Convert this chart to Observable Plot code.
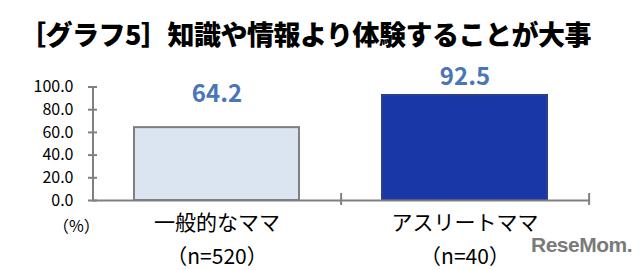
<!DOCTYPE html>
<html>
<head>
<meta charset="utf-8">
<script src="https://cdn.jsdelivr.net/npm/d3@7"></script>
<script src="https://cdn.jsdelivr.net/npm/@observablehq/plot@0.6"></script>
<style>
  html, body { margin: 0; padding: 0; background: #ffffff; }
  body { width: 640px; height: 270px; position: relative; overflow: hidden; font-family: "Noto Sans CJK JP", sans-serif; }
  #title { height: 56px; box-sizing: border-box; padding: 20px 0 0 19px; font-size: 27px; line-height: 27px; font-weight: 900; color: #000; white-space: nowrap; letter-spacing: -0.5px; }
  #unit { position: absolute; left: 53px; top: 216px; font-size: 16px; line-height: 19px; color: #000; }
  #brand { position: absolute; left: 531px; top: 233px; font-family: "Liberation Sans", Arial, sans-serif; font-size: 21px; font-weight: 700; color: #7a7a7a; letter-spacing: -0.5px; }
  svg { display: block; }
</style>
</head>
<body>
<div id="title">［グラフ5］知識や情報より体験することが大事</div>
<div id="chart"></div>
<div id="unit">（%）</div>
<div id="brand">ReseMom.</div>
<script>
const categories = ["一般的なママ", "アスリートママ"];
const samples = ["（n=520）", "（n=40）"];
const values = [64.2, 92.5];
const yTicks = [0, 20, 40, 60, 80, 100];
const fills = ["#dbe5f1", "#1a37a8"];
const strokes = ["#7f7f7f", "#2a3f8f"];

const data = categories.map((c, i) => ({category: c, sample: samples[i], value: values[i], fill: fills[i], stroke: strokes[i]}));
const labelOf = new Map(categories.map((c, i) => [c, c + "\n" + samples[i]]));

const step = (640 - 51 - 92.5) / 2;

const plot = Plot.plot({
  width: 640,
  height: 214,
  marginLeft: 92.5,
  marginRight: 51,
  marginTop: 30.5,
  marginBottom: 70,
  style: {fontFamily: "'Noto Sans CJK JP', sans-serif", background: "transparent"},
  x: {domain: categories, paddingInner: 0.333, paddingOuter: 0.1667, axis: null},
  y: {domain: [0, 100], axis: null},
  marks: [
    Plot.barY(data, {x: "category", y: "value", fill: "fill", stroke: "stroke", strokeWidth: 2}),
    Plot.frame({anchor: "left", stroke: "#808080", strokeWidth: 2}),
    Plot.ruleY([0], {stroke: "#808080", strokeWidth: 2}),
    Plot.ruleX(categories, {x: d => d, dx: step / 2, y1: 0, y2: 0, insetTop: -7, insetBottom: -5, stroke: "#808080", strokeWidth: 2}),
    Plot.axisY({ticks: yTicks, tickFormat: d => d.toFixed(1), tickSize: 9, dx: 4.5, tickPadding: 15, stroke: "#808080", strokeWidth: 2, fill: "#000", fontSize: 16, label: null}),
    Plot.axisX({tickFormat: d => labelOf.get(d), tickSize: 0, tickPadding: 6, fontSize: 21, lineHeight: 1.6, fill: "#000", label: null}),
    Plot.text(data.filter(d => d.category === categories[0]), {x: "category", y: "value", text: d => d.value.toFixed(1), dy: -33, fontSize: 24, fontWeight: "bold", fill: "#4a76b5"}),
    Plot.text(data.filter(d => d.category === categories[1]), {x: "category", y: "value", text: d => d.value.toFixed(1), dy: -18, fontSize: 24, fontWeight: "bold", fill: "#4a76b5"})
  ]
});
document.getElementById("chart").append(plot);
</script>
</body>
</html>
